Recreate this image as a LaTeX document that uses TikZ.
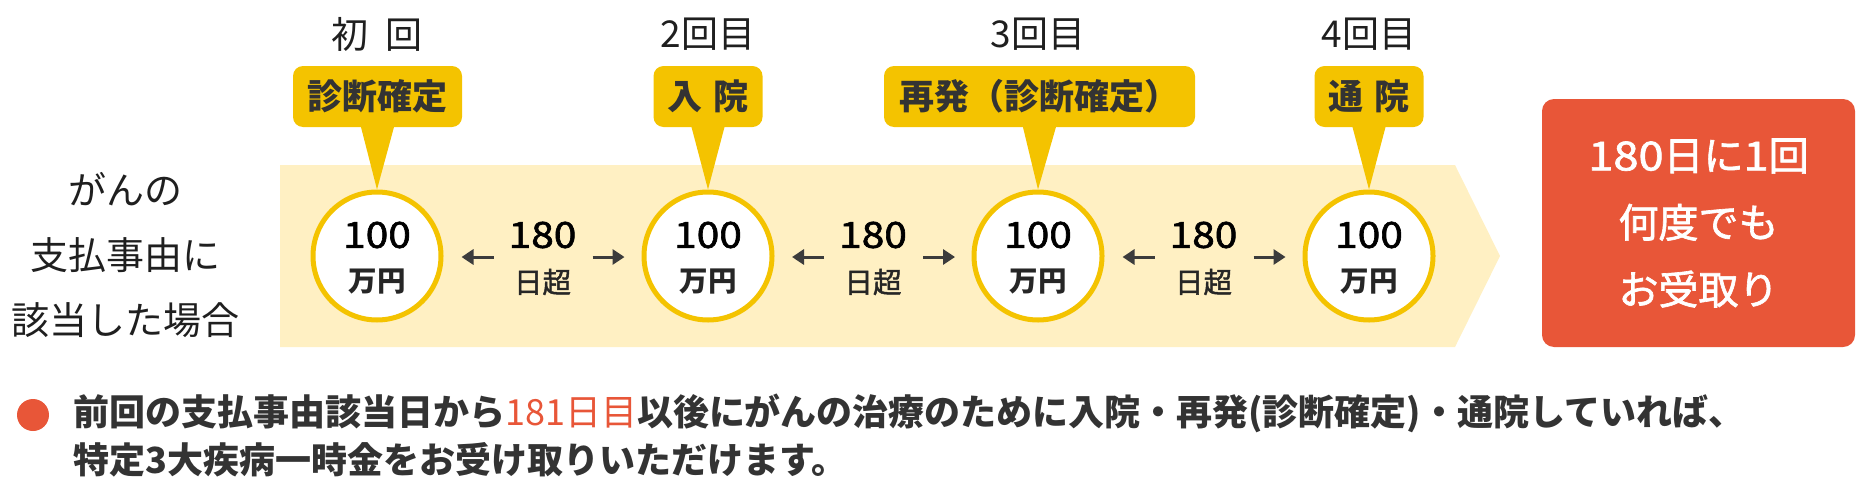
\documentclass[tikz,border=0pt]{standalone}
\usepackage{fontspec}
\setmainfont{Noto Sans CJK JP}
\newfontfamily\medfont[FakeBold=1.6]{Noto Sans CJK JP}
\usetikzlibrary{arrows.meta}
\definecolor{gold}{HTML}{F4C300}
\definecolor{bandc}{HTML}{FFF0C3}
\definecolor{redc}{HTML}{E85638}
\definecolor{ink}{HTML}{333333}
\definecolor{arrc}{HTML}{3C3C3C}
\newcommand{\wdig}[1]{\scalebox{1.13}[1]{#1}}
\tikzset{
  coin/.style={circle, draw=gold, line width=5pt, fill=white, minimum size=128pt, inner sep=0pt},
  numtxt/.style={font=\fontsize{36pt}{40pt}\medfont, text=black, inner sep=0pt},
  unittxt/.style={font=\fontsize{28.5pt}{30pt}\selectfont\bfseries, text=black!85, inner sep=0pt},
  daytxt/.style={font=\fontsize{28.5pt}{30pt}\medfont, text=black!85, inner sep=0pt},
  headtxt/.style={font=\fontsize{37pt}{40pt}\selectfont, text=black!88, inner sep=0pt},
  calloutbox/.style={fill=gold, rounded corners=10pt, minimum height=61pt, inner sep=0pt,
     font=\fontsize{35pt}{38pt}\selectfont\bfseries, text=ink},
  arr/.style={draw=arrc, line width=3pt, -{Triangle[length=12pt,width=15pt]}},
  redbox/.style={fill=redc, rounded corners=12pt, inner sep=0pt},
}
\begin{document}
\begin{tikzpicture}[x=1pt,y=-1pt]
\useasboundingbox (0,0) rectangle (1860,490);
% band
\fill[bandc] (280,165) -- (1455,165) -- (1500,256) -- (1455,347) -- (280,347) -- cycle;
% left text
\node[align=center, font=\fontsize{38pt}{65pt}\selectfont, text=black!88, inner sep=0pt] (lt) at (125,255) {がんの\\支払事由に\\該当した場合};
% coins
\node[coin] (c1) at (377,256) {};
\node[coin] (c2) at (708,256) {};
\node[coin] (c3) at (1038,256) {};
\node[coin] (c4) at (1369,256) {};
% callouts
\node[calloutbox, minimum width=169pt] (b1) at (377.5,96.5) {診断確定};
\node[calloutbox, minimum width=109pt] (b2) at (708,96.5) {入\hspace{0.3em}院};
\node[calloutbox, minimum width=311pt] (b3) at (1039.5,96.5) {再発（診断確定）};
\node[calloutbox, minimum width=109pt] (b4) at (1369,96.5) {通\hspace{0.3em}院};
\foreach \i in {1,2,3,4}{
  \fill[gold] ([xshift=-17pt,yshift=2pt]b\i.south) -- ([xshift=17pt,yshift=2pt]b\i.south) -- (c\i.north) -- cycle;
}
% headings
\node[headtxt] (h1) at (377,34) {初\hspace{0.45em}回};
\node[headtxt] (h2) at (708,34) {2回目};
\node[headtxt] (h3) at (1038,34) {3回目};
\node[headtxt] (h4) at (1369,34) {4回目};
% coin texts
\foreach \i/\x in {1/377,2/708,3/1038,4/1369}{
  \node[numtxt] (n\i) at (\x,235) {\wdig{100}};
  \node[unittxt] (u\i) at (\x,282) {万円};
}
% interval labels and arrows
\foreach \i/\m in {1/542.5,2/873,3/1203.5}{
  \node[numtxt] (d\i) at (\m,235) {\wdig{180}};
  \node[daytxt] (e\i) at (\m,282) {日超};
  \coordinate (ls\i) at ([xshift=-49pt]\m,257);
  \coordinate (le\i) at ([xshift=-81pt]\m,257);
  \coordinate (rs\i) at ([xshift=50pt]\m,257);
  \coordinate (re\i) at ([xshift=82pt]\m,257);
  \draw[arr] (ls\i) -- (le\i);
  \draw[arr] (rs\i) -- (re\i);
}
% red box
\node[redbox, minimum width=313pt, minimum height=248pt] (rb) at (1698.5,223) {};
\node[align=center, font=\fontsize{40pt}{67pt}\medfont, text=white, inner sep=0pt] (rt) at (rb.center) {\wdig{180}日に\wdig{1}回\\何度でも\\お受取り};
% bottom note
\node[circle, fill=redc, minimum size=32pt, inner sep=0pt] (dot) at (33,415) {};
\node[anchor=west, inner sep=0pt, font=\fontsize{36pt}{40pt}\selectfont\bfseries, text=ink] (l1) at (73,413)
  {前回の支払事由該当日から\textcolor{redc}{\mdseries 181日目}以後にがんの治療のために入院・再発(診断確定)・通院していれば、};
\node[anchor=west, inner sep=0pt, font=\fontsize{36pt}{40pt}\selectfont\bfseries, text=ink] (l2) at (73,460)
  {特定3大疾病一時金をお受け取りいただけます。};
\end{tikzpicture}
\end{document}
